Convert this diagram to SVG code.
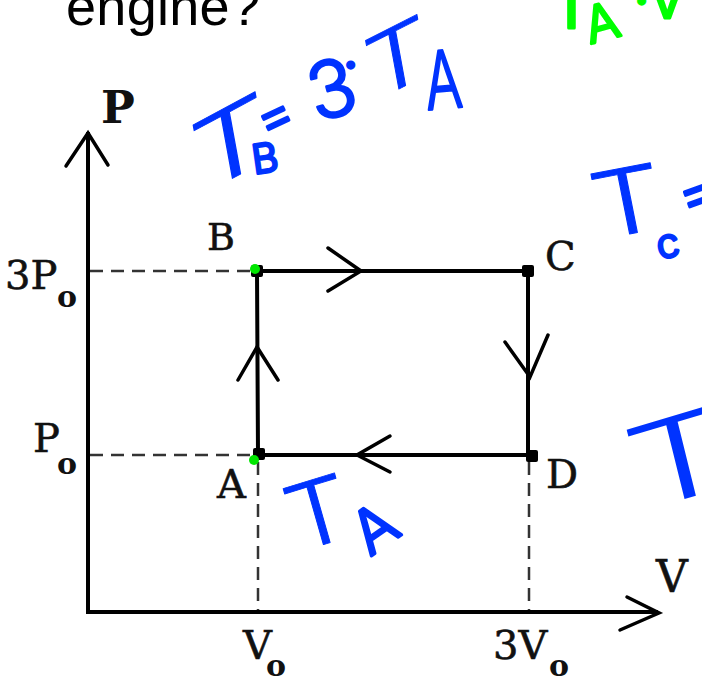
<svg xmlns="http://www.w3.org/2000/svg" width="702" height="683" viewBox="0 0 702 683">
<style>
.ax{fill:none;stroke:#000;stroke-width:4;stroke-linecap:square}
.ln{fill:none;stroke:#000;stroke-width:4}
.dash{fill:none;stroke:#333;stroke-width:2.5;stroke-dasharray:13 8}
.chev{fill:none;stroke:#000;stroke-width:3.5;stroke-linecap:round;stroke-linejoin:miter}
.lbl{font-family:"DejaVu Serif","Liberation Serif",serif;fill:#111;stroke:#111;stroke-width:0.6}
.sub{font-family:"DejaVu Serif","Liberation Serif",serif;font-weight:bold;fill:#111}
.hb{font-family:Inter,"DejaVu Sans",sans-serif;font-weight:300;fill:#0033ff;stroke:#0033ff;stroke-linejoin:round;stroke-linecap:round}
.hg{font-family:Inter,"DejaVu Sans",sans-serif;font-weight:300;fill:#00ff00;stroke:#00ff00;stroke-linejoin:round}
.dot{fill:#000}
.gdot{fill:#00e600}
</style>
<rect width="702" height="683" fill="#fff"/>
<text x="66" y="25" font-family="Liberation Sans,Arial,sans-serif" font-size="54" fill="#000" textLength="194">engine?</text>

<g id="connectors">
<path class="ax" d="M88,134 V612 H656"/>
<polyline class="chev" points="66,166 88,133 108,165"/>
<polyline class="chev" points="627,597 659,613 620,630"/>
<path class="dash" d="M90,271 H252"/>
<path class="dash" d="M90,455 H252"/>
<path class="dash" d="M258,462 V610"/>
<path class="dash" d="M529,462 V610"/>
<path class="ln" d="M257,271 H528 V455 H258 Z"/>
<polyline class="chev" points="328,248 361,271 328,291"/>
<polyline class="chev" points="505,342 530,377 548,335"/>
<polyline class="chev" points="238,380 257,347 278,380"/>
<polyline class="chev" points="390,436 357,455 390,472"/>
</g>

<g id="node-B"><rect class="dot" x="251" y="265" width="12" height="12" rx="2"/><circle class="gdot" cx="255" cy="269" r="5"/><text class="lbl" x="207" y="250" font-size="38">B</text></g>
<g id="node-C"><rect class="dot" x="522" y="265" width="12" height="12" rx="2"/><text class="lbl" x="545" y="270" font-size="40">C</text></g>
<g id="node-A"><rect class="dot" x="253" y="448" width="12" height="12" rx="2"/><circle class="gdot" cx="254" cy="460" r="5"/><text class="lbl" x="217" y="498" font-size="40">A</text></g>
<g id="node-D"><rect class="dot" x="526" y="450" width="12" height="12" rx="2"/><text class="lbl" x="546" y="488" font-size="40">D</text></g>

<g id="axis-labels">
<text class="sub" x="101" y="123" font-size="45">P</text>
<text class="lbl" x="656" y="592" font-size="44">V</text>
<text class="lbl" x="5" y="289" font-size="40">3P</text>
<text class="sub" x="57" y="307" font-size="30">o</text>
<text class="lbl" x="33" y="452" font-size="40">P</text>
<text class="sub" x="57" y="474" font-size="30">o</text>
<text class="lbl" x="243" y="659" font-size="40">V</text>
<text class="sub" x="266" y="676" font-size="30">o</text>
<text class="lbl" x="493" y="659" font-size="40">3V</text>
<text class="sub" x="549" y="676" font-size="30">o</text>
</g>

<g id="note-TB">
<text class="hb" font-size="100" stroke-width="1" transform="matrix(1.164,-0.623,0.171,0.933,199.5,196)">T</text>
<text class="hb" font-size="40" stroke-width="3" transform="translate(254,174) rotate(-8)">B</text>
<text class="hb" font-size="55" stroke-width="3" transform="translate(266,140) rotate(-25)">=</text>
<text class="hb" font-size="78" stroke-width="2.5" transform="translate(316,122) rotate(-15)">3</text>
<text class="hb" font-size="40" stroke-width="5" transform="translate(345,79)">·</text>
<text class="hb" font-size="100" stroke-width="1" transform="matrix(0.967,-0.492,0.151,0.823,371.5,103)">T</text>
<text class="hb" font-size="100" stroke-width="3" transform="translate(427,110) rotate(-5) scale(0.55,0.8)">A</text>
</g>
<g id="note-TC">
<text class="hb" font-size="100" stroke-width="1" transform="matrix(1.115,-0.213,0.178,0.892,598,240)">T</text>
<text class="hb" font-size="40" stroke-width="3" transform="translate(659,259) rotate(-10)">c</text>
<text class="hb" font-size="60" stroke-width="3" transform="translate(686,218) rotate(-20)">=</text>
</g>
<g id="note-TD">
<text class="hb" font-size="100" stroke-width="0" transform="matrix(1.64,-0.49,0.274,1.11,638,513)">T</text>
</g>
<g id="note-TA">
<text class="hb" font-size="100" stroke-width="1" transform="matrix(0.967,-0.295,0.247,0.864,296,553)">T</text>
<text class="hb" font-size="60" stroke-width="3" transform="translate(370,557) rotate(-35)">A</text>
</g>
<g id="note-green">
<text class="hg" font-size="80" stroke-width="3" x="546" y="28">T</text>
<text class="hg" font-size="50" stroke-width="3" transform="translate(590,44) rotate(-15)">A</text>
<text class="hg" font-size="40" stroke-width="5" x="636" y="15">·</text>
<text class="hg" font-size="60" stroke-width="3" x="647" y="18">V</text>
</g>
</svg>
